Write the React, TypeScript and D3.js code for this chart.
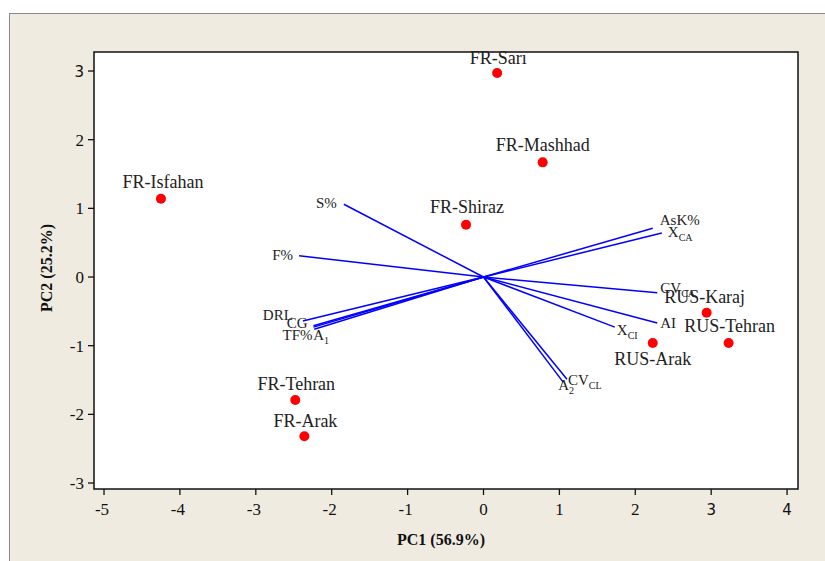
import React from "react";
import * as d3 from "d3";

const W = 825;
const H = 561;

// Observations (scores)
const obsNames = ["FR-Sarı", "FR-Mashhad", "FR-Isfahan", "FR-Shiraz", "RUS-Karaj", "RUS-Tehran", "RUS-Arak", "FR-Tehran", "FR-Arak"];
const obsPC1 = [0.18, 0.78, -4.25, -0.23, 2.94, 3.23, 2.23, -2.48, -2.36];
const obsPC2 = [2.97, 1.67, 1.14, 0.76, -0.52, -0.96, -0.96, -1.79, -2.32];

// Variables (loadings)
const varMain = ["S%", "F%", "DRL", "CG", "TF%", "A", "AsK%", "X", "CV", "AI", "X", "A", "CV"];
const varSub = ["", "", "", "", "", "1", "", "CA", "CA", "", "CI", "2", "CL"];
const varPC1 = [-1.84, -2.43, -2.38, -2.24, -2.24, -2.23, 2.23, 2.35, 2.29, 2.29, 1.73, 1.05, 1.10];
const varPC2 = [1.06, 0.31, -0.64, -0.71, -0.73, -0.76, 0.71, 0.64, -0.23, -0.67, -0.73, -1.53, -1.49];

const xTicks = [-5, -4, -3, -2, -1, 0, 1, 2, 3, 4];
const yTicks = [-3, -2, -1, 0, 1, 2, 3];

// label placement (styling)
const obsLabelDy = [-9, -11, -11, -12, -10, -11, 22, -10, -9];
const obsLabelDx = [1, 0, 2, 1, -2, 1, 0, 1, 1];
const varAnchor = ["end", "end", "end", "end", "end", "start", "start", "start", "start", "start", "start", "start", "start"];
const varDx = [-7, -6, -10, -6, -1, -1, 7, 6, 3, 3, 2, -5, 1];
const varDy = [4, 4, -1, 2, 13, 11, -3, 4, 0, 5, 8, 8, 6];

export default function App() {
  const left = 94, right = 798, top = 52, bottom = 489;
  const x = d3.scaleLinear().domain([-5.132, 4.144]).range([left, right]);
  const y = d3.scaleLinear().domain([-3.087, 3.277]).range([bottom, top]);
  const serif = "'Liberation Serif', 'Times New Roman', serif";
  const sans = "'DejaVu Sans', Tahoma, sans-serif";

  return (
    <svg width={W} height={H} style={{ position: "absolute", left: 0, top: 0 }} xmlns="http://www.w3.org/2000/svg">
      <rect x={0} y={0} width={W} height={H} fill="#ffffff" />
      <rect x={9.5} y={13.5} width={W + 20} height={H + 20} fill="#EFEBE1" stroke="#8a8a8a" strokeWidth={1} />
      <rect x={left} y={top} width={right - left} height={bottom - top} fill="#ffffff" stroke="#111" strokeWidth={1.5} />

      {/* x ticks */}
      {xTicks.map((t) => (
        <g key={"xt" + t}>
          <line x1={x(t)} x2={x(t)} y1={bottom} y2={bottom + 6} stroke="#111" strokeWidth={1.3} />
          <text
            x={x(t) + (t < 0 ? -2 : 0)}
            y={bottom + 26}
            textAnchor="middle"
            fontFamily={t >= 3 ? sans : serif}
            fontSize={t >= 3 ? 15 : 17}
            fill="#111"
          >
            {t}
          </text>
        </g>
      ))}
      {/* y ticks */}
      {yTicks.map((t) => (
        <g key={"yt" + t}>
          <line x1={left - 6} x2={left} y1={y(t)} y2={y(t)} stroke="#111" strokeWidth={1.3} />
          <text
            x={left - 10}
            y={y(t) + 6}
            textAnchor="end"
            fontFamily={t === 3 ? sans : serif}
            fontSize={t === 3 ? 15 : 17}
            fill="#111"
          >
            {t}
          </text>
        </g>
      ))}

      <text x={441} y={545} textAnchor="middle" fontFamily={serif} fontWeight="bold" fontSize={16} fill="#111">
        PC1 (56.9%)
      </text>
      <text
        transform={`translate(52, 268) rotate(-90)`}
        textAnchor="middle"
        fontFamily={serif}
        fontWeight="bold"
        fontSize={16}
        fill="#111"
      >
        PC2 (25.2%)
      </text>

      {/* loading vectors */}
      {varPC1.map((v, i) => (
        <line key={"vl" + i} x1={x(0)} y1={y(0)} x2={x(v)} y2={y(varPC2[i])} stroke="#0000FF" strokeWidth={1.5} />
      ))}
      {varPC1.map((v, i) => (
        <text
          key={"vt" + i}
          x={x(v) + varDx[i]}
          y={y(varPC2[i]) + varDy[i]}
          textAnchor={varAnchor[i] as any}
          fontFamily={serif}
          fontSize={15}
          fill="#222"
        >
          {varMain[i]}
          {varSub[i] ? (
            <tspan fontSize={10} dy={4}>
              {varSub[i]}
            </tspan>
          ) : null}
        </text>
      ))}

      {/* observations */}
      {obsPC1.map((v, i) => (
        <circle key={"oc" + i} cx={x(v)} cy={y(obsPC2[i])} r={5} fill="#FF0000" />
      ))}
      {obsPC1.map((v, i) => (
        <text
          key={"ot" + i}
          x={x(v) + obsLabelDx[i]}
          y={y(obsPC2[i]) + obsLabelDy[i]}
          textAnchor="middle"
          fontFamily={serif}
          fontSize={18}
          fill="#222"
        >
          {obsNames[i]}
        </text>
      ))}
    </svg>
  );
}
